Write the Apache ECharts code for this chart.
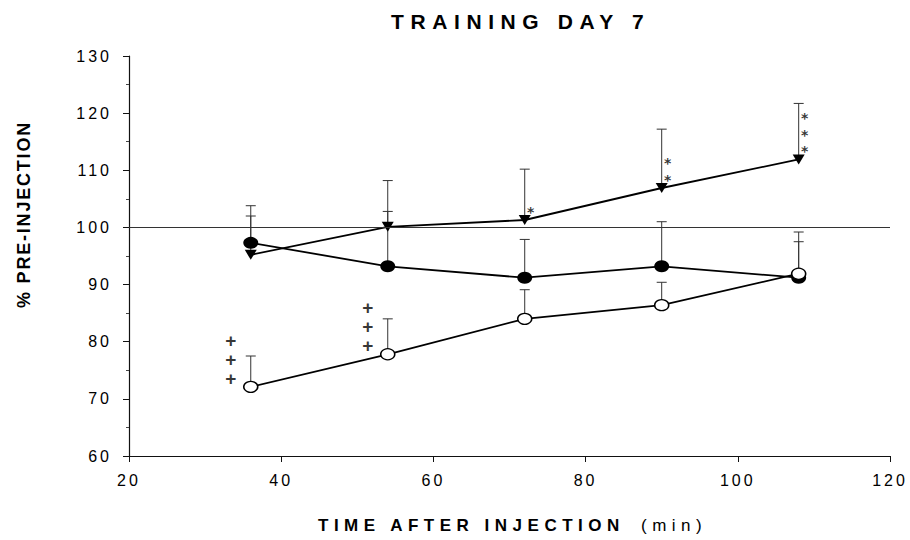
<!DOCTYPE html>
<html>
<head>
<meta charset="utf-8">
<script src="https://cdn.jsdelivr.net/npm/echarts@6/dist/echarts.min.js"></script>
<style>
  html, body { margin: 0; padding: 0; background: #fff; }
  #chart { width: 910px; height: 540px; }
</style>
</head>
<body>
<div id="chart"></div>
<script>
// Sampling times (min after injection)
const timePoints = [36, 54, 72, 90, 108];

// Group means and SEM (% of pre-injection)
const triangleMean = [95.2, 100.1, 101.3, 106.9, 111.9];
const triangleSem  = [6.8, 8.1, 8.9, 10.3, 9.8];
const filledMean   = [97.3, 93.2, 91.2, 93.2, 91.2];
const filledSem    = [6.5, 9.6, 6.7, 7.8, 8.0];
const openMean     = [72.1, 77.8, 84.0, 86.4, 91.9];
const openSem      = [5.4, 6.2, 5.1, 4.0, 5.6];

// Significance marks per time point
const triangleMarks = ['', '', '*', '**', '***'];
const openMarks     = ['+++', '+++', '', '', ''];

// Reference level and axis ticks
const baseline = 100;
const xTicks = [20, 40, 60, 80, 100, 120];
const yTicks = [60, 70, 80, 90, 100, 110, 120, 130];

const FONT = '"Liberation Sans", Arial, sans-serif';
const INK = '#111';

function pairs(mean) {
  return timePoints.map((t, i) => [t, mean[i]]);
}

// Upper-only error bars with a short cap
function errorBars(mean, sem, z) {
  return {
    type: 'custom',
    z: z,
    silent: true,
    data: timePoints.map((t, i) => [t, mean[i], mean[i] + sem[i]]),
    encode: { x: 0, y: [1, 2] },
    renderItem: function (params, api) {
      const base = api.coord([api.value(0), api.value(1)]);
      const top = api.coord([api.value(0), api.value(2)]);
      const half = 5;
      const style = { stroke: '#333', lineWidth: 1 };
      return {
        type: 'group',
        children: [
          { type: 'line', shape: { x1: base[0], y1: base[1], x2: top[0], y2: top[1] }, style: style },
          { type: 'line', shape: { x1: top[0] - half, y1: top[1], x2: top[0] + half, y2: top[1] }, style: style }
        ]
      };
    }
  };
}

// Stacked significance symbols next to a series' points
function markLabels(mean, marks, offset, font) {
  return {
    type: 'scatter',
    z: 6,
    silent: true,
    symbolSize: 0,
    data: timePoints.map((t, i) => ({
      value: [t, mean[i]],
      label: { formatter: marks[i].split('').join('\n') }
    })),
    label: {
      show: true,
      position: offset,
      align: 'center',
      verticalAlign: 'bottom',
      color: '#000',
      fontFamily: font.family,
      fontWeight: 'bold',
      fontSize: font.size,
      lineHeight: font.lineHeight
    }
  };
}

const chart = echarts.init(document.getElementById('chart'), null, { renderer: 'svg' });

chart.setOption({
  animation: false,
  backgroundColor: '#fff',
  grid: { left: 129, right: 20, top: 56, bottom: 84 },
  xAxis: {
    type: 'value',
    min: xTicks[0],
    max: xTicks[xTicks.length - 1],
    interval: xTicks[1] - xTicks[0],
    splitLine: { show: false },
    axisLine: { onZero: false, lineStyle: { color: INK, width: 1.2 } },
    axisTick: { show: true, length: 6, lineStyle: { color: INK, width: 1 } },
    axisLabel: { color: '#000', fontFamily: FONT, fontSize: 16, margin: 16 }
  },
  yAxis: {
    type: 'value',
    min: yTicks[0],
    max: yTicks[yTicks.length - 1],
    interval: yTicks[1] - yTicks[0],
    splitLine: { show: false },
    axisLine: { show: true, lineStyle: { color: INK, width: 1.2 } },
    axisTick: { show: true, length: 6, lineStyle: { color: INK, width: 1 } },
    minorTick: { show: true, splitNumber: 2, length: 3, lineStyle: { color: '#444', width: 1 } },
    axisLabel: { color: '#000', fontFamily: FONT, fontSize: 16, margin: 17 }
  },
  graphic: [
    {
      type: 'text', x: 391, y: 21,
      style: { text: 'TRAINING DAY 7', x: 0, y: 0, fill: '#000', font: 'bold 21px ' + FONT,
               align: 'left', verticalAlign: 'middle', textAlign: 'left', textVerticalAlign: 'middle' }
    },
    {
      type: 'text', x: 318, y: 525,
      style: { text: 'TIME AFTER INJECTION', x: 0, y: 0, fill: '#000', font: 'bold 17px ' + FONT,
               align: 'left', verticalAlign: 'middle', textAlign: 'left', textVerticalAlign: 'middle' }
    },
    {
      type: 'text', x: 641, y: 525,
      style: { text: '(min)', x: 0, y: 0, fill: '#000', font: '17px ' + FONT,
               align: 'left', verticalAlign: 'middle', textAlign: 'left', textVerticalAlign: 'middle' }
    },
    {
      type: 'text', x: 24, y: 308, rotation: Math.PI / 2,
      style: { text: '% PRE-INJECTION', x: 0, y: 0, fill: '#000', font: 'bold 18px ' + FONT,
               align: 'left', verticalAlign: 'middle', textAlign: 'left', textVerticalAlign: 'middle' }
    }
  ],
  series: [
    errorBars(triangleMean, triangleSem, 1),
    errorBars(filledMean, filledSem, 1),
    errorBars(openMean, openSem, 1),
    {
      type: 'line',
      name: 'triangle',
      z: 3,
      data: pairs(triangleMean),
      symbol: 'triangle',
      symbolRotate: 180,
      symbolSize: [12, 10],
      showAllSymbol: true,
      itemStyle: { color: '#000' },
      lineStyle: { color: '#000', width: 1.8 },
      markLine: {
        silent: true,
        symbol: 'none',
        label: { show: false },
        lineStyle: { color: '#333', width: 1, type: 'solid' },
        data: [{ yAxis: baseline }]
      }
    },
    {
      type: 'line',
      name: 'filled',
      z: 3,
      data: pairs(filledMean),
      symbol: 'circle',
      symbolSize: [15, 12],
      showAllSymbol: true,
      itemStyle: { color: '#000' },
      lineStyle: { color: '#000', width: 1.8 }
    },
    {
      type: 'line',
      name: 'open',
      z: 4,
      data: pairs(openMean),
      symbol: 'circle',
      symbolSize: [14, 11],
      showAllSymbol: true,
      itemStyle: { color: '#fff', borderColor: '#000', borderWidth: 1.4 },
      lineStyle: { color: '#000', width: 1.8 }
    },
    markLabels(triangleMean, triangleMarks, [6, 0], { family: '"DejaVu Sans", sans-serif', size: 14, lineHeight: 16.6 }),
    markLabels(openMean, openMarks, [-20, 1], { family: FONT, size: 19, lineHeight: 19 })
  ]
});

// Wide tracking on the lettering
function applyTracking() {
  document.querySelectorAll('#chart text').forEach(function (el) {
    const s = el.textContent.trim();
    let sp = 0;
    if (s === 'TRAINING DAY 7') sp = 6.6;
    else if (s === 'TIME AFTER INJECTION' || s === '(min)') sp = 5.5;
    else if (s === '% PRE-INJECTION') sp = 1.8;
    else if (/^\d+$/.test(s)) sp = 3;
    if (sp) el.setAttribute('letter-spacing', sp);
  });
}
applyTracking();
chart.on('finished', applyTracking);
</script>
</body>
</html>
